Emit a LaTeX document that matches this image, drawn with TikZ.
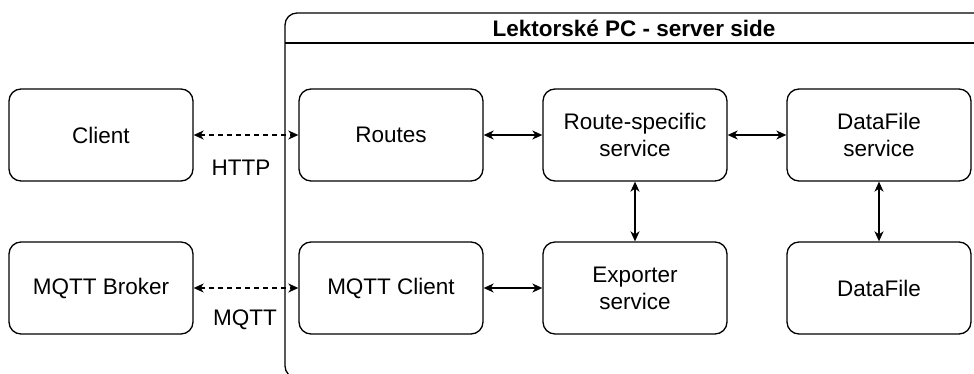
\documentclass[tikz,border=0pt]{standalone}
\usepackage{fontspec}
\setmainfont{Liberation Sans}
\usetikzlibrary{arrows.meta}

\tikzset{
  box/.style={draw, line width=1.3pt, rounded corners=12pt, minimum width=184pt,
    minimum height=92pt, align=center, inner sep=0pt, font=\fontsize{22.5}{27}\selectfont},
  link/.style={line width=1.3pt, {Stealth[length=10pt,width=9pt,inset=3pt]}-{Stealth[length=10pt,width=9pt,inset=3pt]}},
  proto/.style={link, dashed, dash pattern=on 5pt off 4pt},
  lbl/.style={font=\fontsize{22.5}{27}\selectfont, inner sep=0pt}
}

\begin{document}
\begin{tikzpicture}[x=1pt, y=-1pt]
  \useasboundingbox (0,0) rectangle (974,374);
  \begin{scope}
    \clip (0,0) rectangle (974,374);
    % server-side container with header strip
    \draw[line width=1.3pt, rounded corners=12pt] (285,13) rectangle (990,378);
    \draw[line width=1.3pt] (285,43) -- (990,43);
    \node[font=\bfseries\fontsize{22.5}{27}\selectfont, inner sep=0pt] (title) at (634,28) {Lektorské PC - server side};
  \end{scope}

  % external parties
  \node[box] (client) at (101,135) {Client};
  \node[box] (broker) at (101,288) {MQTT Broker};

  % server components
  \node[box] (routes) at (391,135) {Routes};
  \node[box] (mqttc) at (391,288) {MQTT Client};
  \node[box] (rss) at (635,135) {Route-specific\\service};
  \node[box] (exp) at (635,288) {Exporter\\service};
  \node[box] (dfs) at (879,135) {DataFile\\service};
  \node[box] (df) at (879,288) {DataFile};

  % connections
  \draw[proto] (client) -- (routes);
  \draw[proto] (broker) -- (mqttc);
  \draw[link] (routes) -- (rss);
  \draw[link] (mqttc) -- (exp);
  \draw[link] (rss) -- (dfs);
  \draw[link] (rss) -- (exp);
  \draw[link] (dfs) -- (df);

  \node[lbl] (http) at (241,168) {HTTP};
  \node[lbl] (mqtt) at (245,320) {MQTT};
\end{tikzpicture}
\end{document}
